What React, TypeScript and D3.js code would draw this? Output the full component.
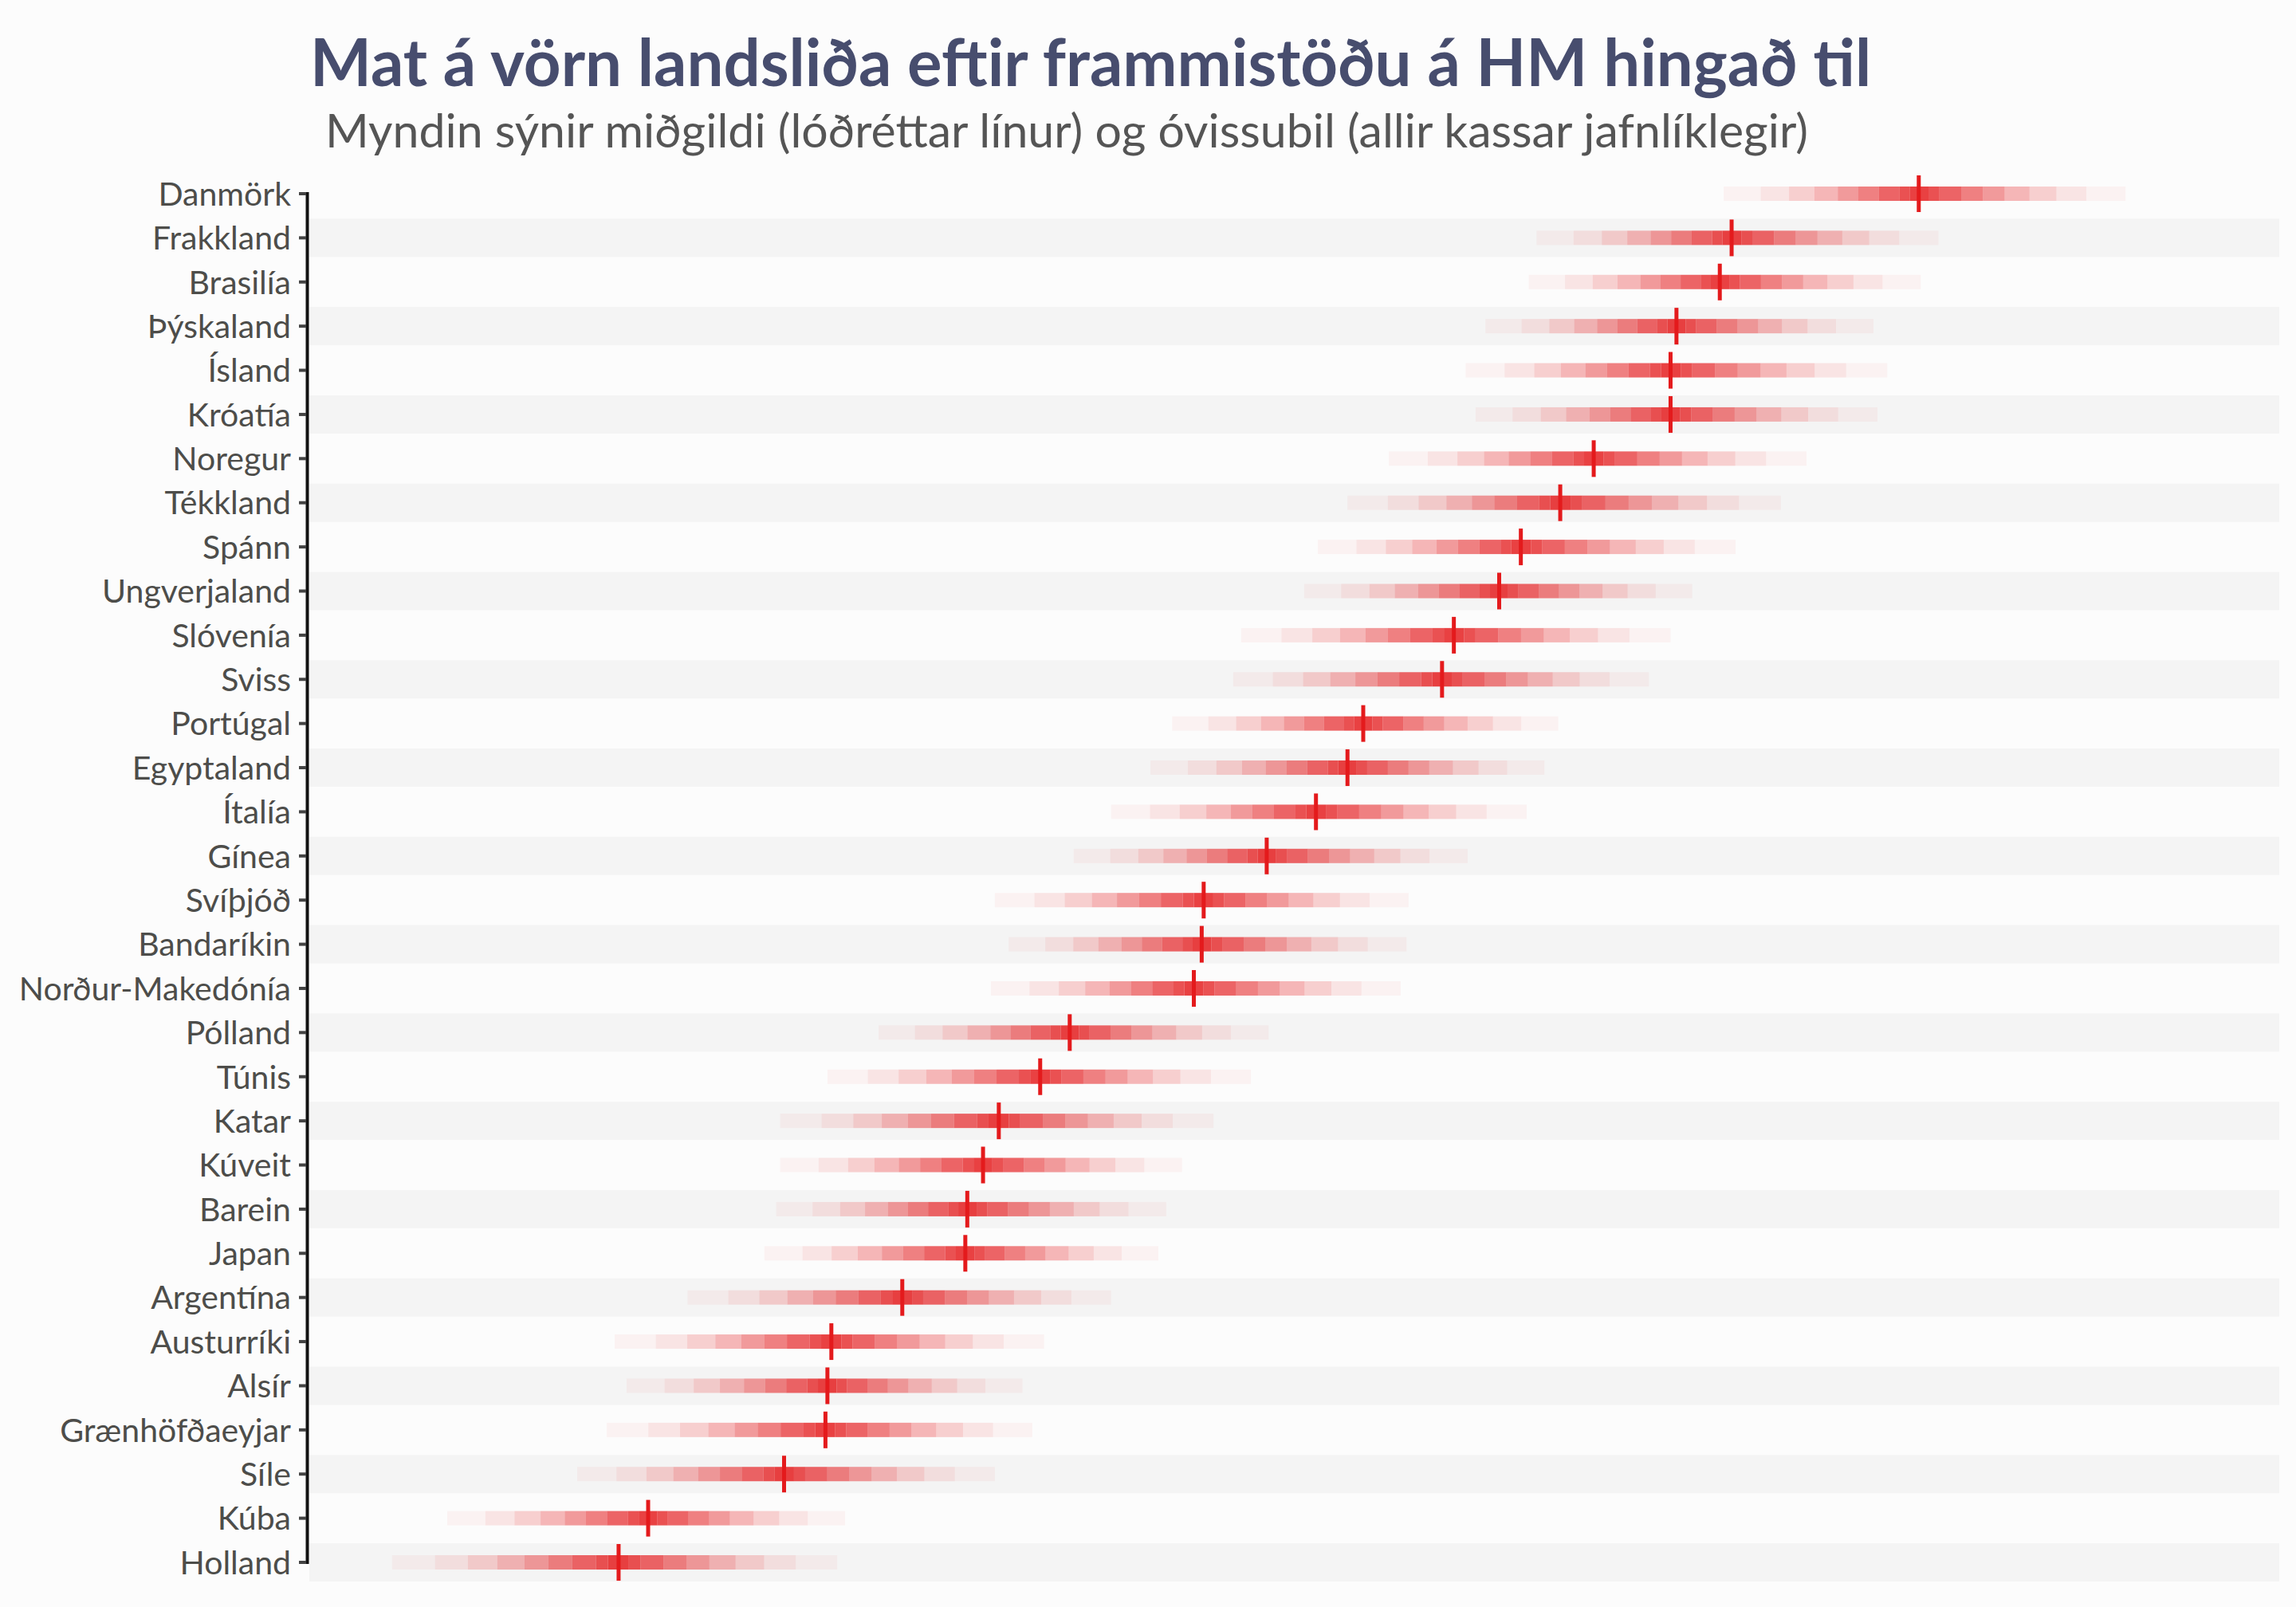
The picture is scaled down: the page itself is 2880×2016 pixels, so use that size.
import React from "react";
import * as d3 from "d3";

// Countries (top to bottom)
const countries = [
  "Danmörk", "Frakkland", "Brasilía", "Þýskaland", "Ísland", "Króatía",
  "Noregur", "Tékkland", "Spánn", "Ungverjaland", "Slóvenía", "Sviss",
  "Portúgal", "Egyptaland", "Ítalía", "Gínea", "Svíþjóð", "Bandaríkin",
  "Norður-Makedónía", "Pólland", "Túnis", "Katar", "Kúveit", "Barein",
  "Japan", "Argentína", "Austurríki", "Alsír", "Grænhöfðaeyjar", "Síle",
  "Kúba", "Holland",
];

// Outer lower bound, median, outer upper bound (arbitrary 0-100 scale)
const lower = [
  71.8, 62.3, 61.9, 59.7, 58.7, 59.2,
  54.8, 52.7, 51.2, 50.5, 47.3, 46.9,
  43.8, 42.7, 40.7, 38.8, 34.8, 35.5,
  34.6, 28.9, 26.3, 23.9, 23.9, 23.7,
  23.1, 19.2, 15.5, 16.1, 15.1, 13.6,
  7.0, 4.2,
];
const median = [
  81.7, 72.2, 71.6, 69.4, 69.1, 69.1,
  65.2, 63.5, 61.5, 60.4, 58.1, 57.5,
  53.5, 52.7, 51.1, 48.6, 45.4, 45.3,
  44.9, 38.6, 37.1, 35.0, 34.2, 33.4,
  33.3, 30.1, 26.5, 26.3, 26.2, 24.1,
  17.2, 15.7,
];
const upper = [
  92.2, 82.7, 81.8, 79.4, 80.1, 79.6,
  76.0, 74.7, 72.4, 70.2, 69.1, 68.0,
  63.4, 62.7, 61.8, 58.8, 55.8, 55.7,
  55.4, 48.7, 47.8, 45.9, 44.3, 43.5,
  43.1, 40.7, 37.3, 36.2, 36.7, 34.8,
  27.2, 26.8,
];

// Relative position of the box edges from the median (inner -> outer)
const edgeProfile = [0.047, 0.1, 0.205, 0.31, 0.415, 0.535, 0.665, 0.81, 1.0];
// Opacity of each box level (inner -> outer)
const levelOpacity = [0.83, 0.76, 0.67, 0.55, 0.43, 0.31, 0.195, 0.106, 0.044];

const TITLE = "Mat á vörn landsliða eftir frammistöðu á HM hingað til";
const SUBTITLE =
  "Myndin sýnir miðgildi (lóðréttar línur) og óvissubil (allir kassar jafnlíklegir)";

const W = 2880;
const H = 2016;
const FONT = "Lato, 'Noto Sans', sans-serif";
const RED = "#e41a1c";

export default function App() {
  const panelLeft = 388;
  const panelRight = 2859;
  const x = d3.scaleLinear().domain([0, 100]).range([panelLeft, panelRight]);
  const y = d3.scalePoint<string>().domain(countries).range([243, 1960]);
  const stripeH = 48;
  const boxH = 18;
  const medH = 46;

  const rows = countries.map((c, i) => {
    const m = median[i];
    const lo = lower[i];
    const hi = upper[i];
    const L = edgeProfile.map((p) => m - p * (m - lo));
    const U = edgeProfile.map((p) => m + p * (hi - m));
    const segs: { a: number; b: number; level: number }[] = [];
    segs.push({ a: L[0], b: U[0], level: 0 });
    for (let k = 1; k < edgeProfile.length; k++) {
      segs.push({ a: L[k], b: L[k - 1], level: k });
      segs.push({ a: U[k - 1], b: U[k], level: k });
    }
    return { c, i, m, segs };
  });

  const yTop = y(countries[0])!;
  const yBot = y(countries[countries.length - 1])!;

  return (
    <svg
      width={W}
      height={H}
      style={{ position: "absolute", left: 0, top: 0, display: "block" }}
    >
      <rect x={0} y={0} width={W} height={H} fill="#fcfcfc" />
      {/* stripes */}
      {rows
        .filter((r) => r.i % 2 === 1)
        .map((r) => (
          <rect
            key={"s" + r.c}
            x={panelLeft}
            y={y(r.c)! - stripeH / 2}
            width={panelRight - panelLeft}
            height={stripeH}
            fill="#f4f4f4"
          />
        ))}
      {/* boxes */}
      {rows.map((r) => (
        <g key={"b" + r.c}>
          {r.segs.map((s, j) => (
            <rect
              key={j}
              x={x(s.a)}
              y={y(r.c)! - boxH / 2}
              width={Math.max(0, x(s.b) - x(s.a))}
              height={boxH}
              fill={RED}
              fillOpacity={levelOpacity[s.level]}
            />
          ))}
          <line
            x1={x(r.m)}
            x2={x(r.m)}
            y1={y(r.c)! - medH / 2}
            y2={y(r.c)! + medH / 2}
            stroke={RED}
            strokeWidth={5}
          />
        </g>
      ))}
      {/* y axis */}
      <line
        x1={385.5}
        x2={385.5}
        y1={yTop - 2}
        y2={yBot + 2}
        stroke="#111"
        strokeWidth={4}
      />
      {countries.map((c) => (
        <g key={"t" + c}>
          <line
            x1={375}
            x2={384}
            y1={y(c)!}
            y2={y(c)!}
            stroke="#444"
            strokeWidth={4}
          />
          <text
            x={365}
            y={y(c)!}
            dy="0.36em"
            textAnchor="end"
            fontFamily={FONT}
            fontSize={41}
            fill="#4d4d4a"
          >
            {c}
          </text>
        </g>
      ))}
      {/* titles */}
      <text
        x={389}
        y={108}
        fontFamily={FONT}
        fontWeight={700}
        fontSize={81.5}
        fill="#474d6e"
      >
        {TITLE}
      </text>
      <text x={408} y={185} fontFamily={FONT} fontSize={59} fill="#555555">
        {SUBTITLE}
      </text>
    </svg>
  );
}
